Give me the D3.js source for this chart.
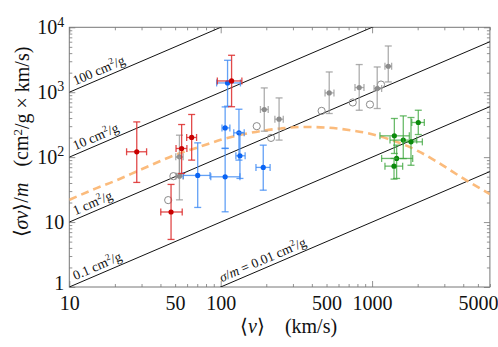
<!DOCTYPE html>
<html>
<head>
<meta charset="utf-8">
<script src="https://cdn.jsdelivr.net/npm/d3@7"></script>
<style>
  body { margin: 0; background: #fff; }
  svg, svg text, svg tspan { font-family: "Liberation Serif", "Times New Roman", Times, serif !important; }
</style>
</head>
<body>
<div id="chart"></div>
<script>

// data points: [v, vLo, vHi, sv/m, lo, hi]  (km/s, cm^2/g x km/s)
var redPoints = [
    [27.9, 23.9, 32.4, 121, 40.8, 349],
    [55.2, 50.7, 59.8, 136, 56, 318],
    [64.3, 59.6, 69.3, 201, 90, 454],
    [47.0, 40.2, 55.7, 14.3, 5.4, 38],
    [118, 95, 138, 1492, 598, 3707]
];
var bluePoints = [
    [111, 94, 135, 1390, 609, 3105],
    [107, 102, 115, 282, 136, 594],
    [132, 122, 143, 237, 90, 547],
    [134, 126, 145, 105, 47, 240],
    [107, 86, 134, 49.8, 14.4, 137],
    [70.5, 56.6, 85, 52.3, 16.8, 166],
    [191, 171, 212, 69.5, 31, 153]
];
var grayPoints = [
    [53.4, 50.5, 56.5, 101, 56, 218],
    [53.4, 50.5, 56.5, 51, 22, 100],
    [194, 183, 206, 542, 251, 1165],
    [243, 228, 259, 384, 183, 817],
    [521, 489, 560, 976, 470, 2051],
    [822, 771, 884, 1181, 528, 2668],
    [1081, 1030, 1156, 1140, 561, 2449],
    [1279, 1216, 1346, 2512, 1440, 5155]
];
var greenPoints = [
    [1403, 1127, 1762, 213, 114, 394],
    [1607, 1313, 1972, 183, 95, 432],
    [1807, 1607, 2148, 172, 75, 408],
    [2019, 1828, 2213, 342, 223, 528],
    [1452, 1156, 1854, 95.5, 47, 153],
    [1396, 1216, 1592, 72.7, 45.9, 95.5]
];
// open circles: [v, sv/m]
var openPoints = [
    [48.7, 51], [45, 21.8], [173, 300], [215, 198],
    [464, 516], [745, 695], [968, 647], [1145, 1313]
];

// dashed model curve
var curveV = [10, 15, 20, 30, 50, 75, 100, 150, 250, 350, 500, 700, 1000, 1300, 1600, 2000, 2700, 4000, 6000];
var curveS = [22, 33, 43, 65, 108, 148, 185, 232, 277, 292, 285, 262, 225, 188, 158, 125, 84, 47, 27];

// constant cross sections (cm^2/g) and where their labels start (km/s)
var sigmaValues = [100, 10, 1, 0.1, 0.01];
var sigmaLabelV = [11.2, 11.2, 11.2, 11.2, 104];

var xTicks = [10, 50, 100, 500, 1000, 5000];
var yTicks = [1, 10, 100, 1000, 10000];

var serif = "'Liberation Serif', 'Times New Roman', Times, serif";
var width = 498, height = 347;
var plot = { left: 69.3, right: 489.9, top: 27.3, bottom: 287 };

var svg = d3.select("#chart").append("svg")
    .attr("width", width)
    .attr("height", height)
    .attr("font-family", serif);

var x = d3.scaleLog().domain([10, 6000]).range([plot.left, plot.right]);
var y = d3.scaleLog().domain([1, 1e4]).range([plot.bottom, plot.top]);

svg.append("clipPath").attr("id", "clip")
    .append("rect")
    .attr("x", plot.left).attr("y", plot.top)
    .attr("width", plot.right - plot.left)
    .attr("height", plot.bottom - plot.top);

// minor tick values
function minorTicks(lo, hi) {
    var out = [];
    for (var d = lo; d < hi; d *= 10) {
        for (var k = 2; k <= 9; k++) {
            if (d * k <= hi) out.push(d * k);
        }
    }
    return out;
}
var xMinor = minorTicks(10, 6000);
var yMinor = minorTicks(1, 1e4);
var xMajor = [10, 100, 1000];

// axes (ticks inside, on all four sides)
function drawTicks(axis, transform) {
    var g = svg.append("g").attr("transform", transform).call(axis);
    g.select(".domain").remove();
    g.selectAll(".tick line").attr("stroke", "#777").attr("stroke-width", 0.8);
    return g;
}
drawTicks(d3.axisBottom(x).tickValues(xMinor).tickSize(-3).tickFormat(""), "translate(0," + plot.bottom + ")");
drawTicks(d3.axisTop(x).tickValues(xMinor).tickSize(-3).tickFormat(""), "translate(0," + plot.top + ")");
drawTicks(d3.axisBottom(x).tickValues(xMajor).tickSize(-6).tickFormat(""), "translate(0," + plot.bottom + ")");
drawTicks(d3.axisTop(x).tickValues(xMajor).tickSize(-6).tickFormat(""), "translate(0," + plot.top + ")");
drawTicks(d3.axisLeft(y).tickValues(yMinor).tickSize(-3).tickFormat(""), "translate(" + plot.left + ",0)");
drawTicks(d3.axisRight(y).tickValues(yMinor).tickSize(-3).tickFormat(""), "translate(" + plot.right + ",0)");
drawTicks(d3.axisLeft(y).tickValues(yTicks).tickSize(-6).tickFormat(""), "translate(" + plot.left + ",0)");
drawTicks(d3.axisRight(y).tickValues(yTicks).tickSize(-6).tickFormat(""), "translate(" + plot.right + ",0)");

// tick labels
var xLab = svg.append("g")
    .attr("transform", "translate(0," + plot.bottom + ")")
    .call(d3.axisBottom(x).tickValues(xTicks).tickSize(0).tickPadding(9).tickFormat(d3.format("d")));
xLab.attr("font-family", serif);
xLab.select(".domain").remove();
xLab.selectAll(".tick text")
    .attr("font-size", 20)
    .attr("fill", "#111");

var yLab = svg.append("g")
    .attr("transform", "translate(" + plot.left + ",0)")
    .call(d3.axisLeft(y).tickValues(yTicks).tickSize(0).tickPadding(5).tickFormat(""));
yLab.attr("font-family", serif);
yLab.select(".domain").remove();
yLab.selectAll(".tick text")
    .attr("font-size", 20)
    .attr("fill", "#111")
    .each(function(d) {
        var t = d3.select(this);
        var p = Math.round(Math.log10(d));
        if (p === 0) {
            t.attr("dy", "0.1em").text(d);
        } else if (p === 1) {
            t.text(d);
        } else {
            t.append("tspan").text("10");
            t.append("tspan").attr("font-size", 14).attr("dy", "-0.55em").text(p);
        }
    });

// frame
svg.append("rect")
    .attr("x", plot.left).attr("y", plot.top)
    .attr("width", plot.right - plot.left)
    .attr("height", plot.bottom - plot.top)
    .attr("fill", "none")
    .attr("stroke", "#777")
    .attr("stroke-width", 1);

var inner = svg.append("g").attr("clip-path", "url(#clip)");

// constant sigma/m lines
var lineFn = d3.line().x(function(d) { return x(d[0]); }).y(function(d) { return y(d[1]); });
inner.selectAll(".sigma")
    .data(sigmaValues)
    .enter().append("path")
    .attr("class", "sigma")
    .attr("d", function(s) { return lineFn([[10, s * 10], [6000, s * 6000]]); })
    .attr("fill", "none")
    .attr("stroke", "#111")
    .attr("stroke-width", 1);

// line labels
var angle = -Math.atan((y(1) - y(10)) / (x(100) - x(10))) * 180 / Math.PI;
sigmaValues.forEach(function(s, i) {
    var v = sigmaLabelV[i];
    var t = svg.append("text")
        .attr("transform", "translate(" + x(v) + "," + y(s * v) + ") rotate(" + angle + ")")
        .attr("dy", -4)
        .attr("font-size", 13.5)
        .attr("fill", "#111");
    if (s === 0.01) {
        t.append("tspan").attr("font-style", "italic").text("σ");
        t.append("tspan").text("/");
        t.append("tspan").attr("font-style", "italic").text("m");
        t.append("tspan").text(" = 0.01 cm");
    } else {
        t.append("tspan").text(s + " cm");
    }
    t.append("tspan").attr("font-size", 9).attr("dy", "-0.6em").text("2");
    t.append("tspan").attr("dy", "0.4em").text("/g");
});

// model curve
var curveData = curveV.map(function(v, i) { return [v, curveS[i]]; });
inner.append("path")
    .datum(curveData)
    .attr("d", d3.line()
        .x(function(d) { return x(d[0]); })
        .y(function(d) { return y(d[1]); })
        .curve(d3.curveMonotoneX))
    .attr("fill", "none")
    .attr("stroke", "#fbb46e")
    .attr("stroke-width", 2.6)
    .attr("stroke-dasharray", "8,5")
    .attr("opacity", 0.9);

// open circles
inner.selectAll(".open")
    .data(openPoints)
    .enter().append("circle")
    .attr("cx", function(d) { return x(d[0]); })
    .attr("cy", function(d) { return y(d[1]); })
    .attr("r", 3.6)
    .attr("fill", "none")
    .attr("stroke", "#8a8a8a")
    .attr("stroke-width", 1);

// error bar groups
function drawGroup(data, dotColor, barColor, barOpacity) {
    var cap = 3.5;
    var g = inner.append("g");
    var pts = g.selectAll("g").data(data).enter().append("g");
    pts.each(function(d) {
        var p = d3.select(this);
        var cx = x(d[0]), cy = y(d[3]);
        var segs = [
            [cx, y(d[4]), cx, y(d[5])],
            [cx - cap, y(d[4]), cx + cap, y(d[4])],
            [cx - cap, y(d[5]), cx + cap, y(d[5])],
            [x(d[1]), cy, x(d[2]), cy],
            [x(d[1]), cy - cap, x(d[1]), cy + cap],
            [x(d[2]), cy - cap, x(d[2]), cy + cap]
        ];
        p.selectAll("line").data(segs).enter().append("line")
            .attr("x1", function(s) { return s[0]; })
            .attr("y1", function(s) { return s[1]; })
            .attr("x2", function(s) { return s[2]; })
            .attr("y2", function(s) { return s[3]; })
            .attr("stroke", barColor)
            .attr("stroke-width", 1.3)
            .attr("opacity", barOpacity);
        p.append("circle")
            .attr("cx", cx).attr("cy", cy)
            .attr("r", 2.6)
            .attr("fill", dotColor);
    });
}
drawGroup(grayPoints, "#8c8c8c", "#9a9a9a", 0.8);
drawGroup(bluePoints, "#0a64f5", "#3d8af5", 0.8);
drawGroup(greenPoints, "#0b8a0b", "#3aa53a", 0.75);
drawGroup(redPoints, "#c80000", "#dd2b2b", 0.85);

// axis titles
var xt = svg.append("text")
    .attr("x", 240).attr("y", 333)
    .attr("font-size", 20)
    .attr("fill", "#111");
xt.append("tspan").text("⟨");
xt.append("tspan").attr("font-style", "italic").text("v");
xt.append("tspan").text("⟩");
xt.append("tspan").attr("dx", 20).text("(km/s)");

var yt = svg.append("text")
    .attr("transform", "translate(28,142) rotate(-90)")
    .attr("text-anchor", "middle")
    .attr("font-size", 20)
    .attr("fill", "#111");
yt.append("tspan").text("⟨");
yt.append("tspan").attr("font-style", "italic").text("σv");
yt.append("tspan").text("⟩/");
yt.append("tspan").attr("font-style", "italic").text("m");
yt.append("tspan").attr("dx", 16).text("(cm");
yt.append("tspan").attr("font-size", 13).attr("dy", "-0.5em").text("2");
yt.append("tspan").attr("dy", "0.35em").text("/g × km/s)");

</script>
</body>
</html>
